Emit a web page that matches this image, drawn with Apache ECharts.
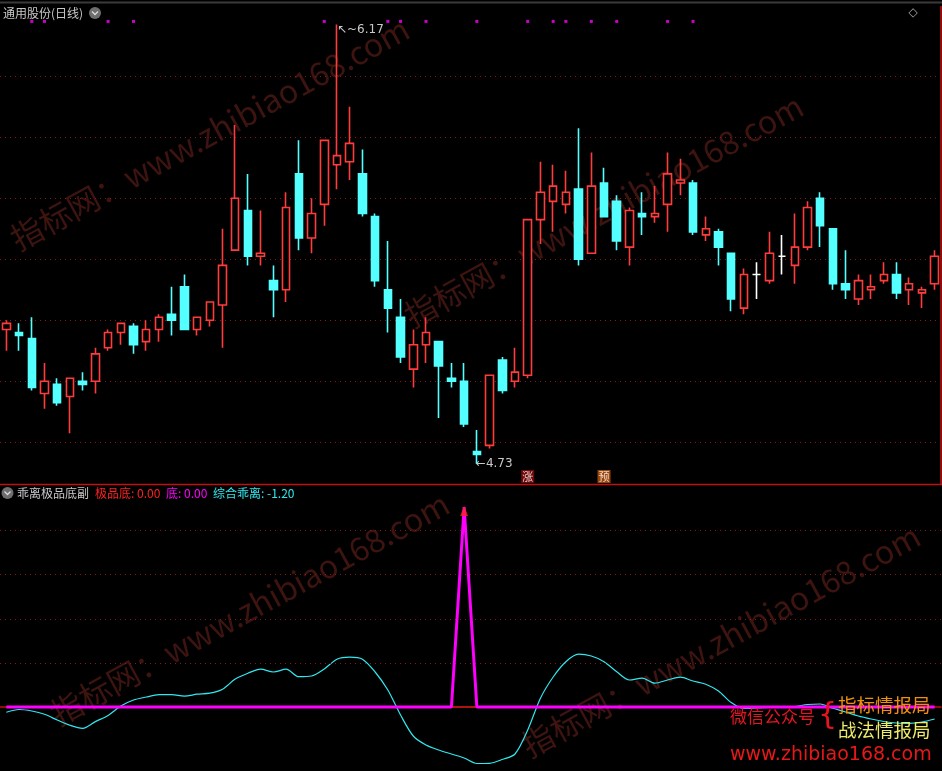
<!DOCTYPE html>
<html><head><meta charset="utf-8">
<script src="https://cdn.jsdelivr.net/npm/echarts@6/dist/echarts.min.js"></script>
<style>html,body{margin:0;padding:0;background:#000;overflow:hidden}#c{width:942px;height:771px}</style>
</head><body><div id="c"></div>
<script>
// ---- data ----
const days = ['d01','d02','d03','d04','d05','d06','d07','d08','d09','d10','d11','d12','d13','d14','d15','d16','d17','d18','d19','d20','d21','d22','d23','d24','d25','d26','d27','d28','d29','d30','d31','d32','d33','d34','d35','d36','d37','d38','d39','d40','d41','d42','d43','d44','d45','d46','d47','d48','d49','d50','d51','d52','d53','d54','d55','d56','d57','d58','d59','d60','d61','d62','d63','d64','d65','d66','d67','d68','d69','d70','d71','d72','d73','d74'];
const opens  = [5.17,5.16,5.14,4.96,4.99,4.95,5.00,5.00,5.11,5.16,5.18,5.13,5.17,5.22,5.31,5.17,5.20,5.25,5.43,5.56,5.41,5.33,5.30,5.68,5.47,5.58,5.71,5.72,5.68,5.54,5.30,5.21,5.04,5.12,5.13,5.01,5.00,4.77,4.79,5.07,5.00,5.02,5.53,5.59,5.58,5.63,5.42,5.65,5.59,5.44,5.55,5.54,5.58,5.65,5.65,5.48,5.49,5.42,5.24,5.35,5.33,5.41,5.38,5.44,5.60,5.50,5.32,5.27,5.30,5.33,5.35,5.30,5.29,5.32];
const closes = [5.19,5.15,4.98,5.00,4.93,5.01,4.99,5.09,5.16,5.19,5.12,5.17,5.21,5.20,5.17,5.21,5.26,5.38,5.60,5.41,5.42,5.30,5.57,5.47,5.55,5.79,5.74,5.78,5.55,5.33,5.24,5.08,5.12,5.16,5.05,5.00,4.86,4.76,5.02,4.97,5.03,5.53,5.62,5.64,5.62,5.40,5.64,5.54,5.46,5.56,5.54,5.55,5.68,5.66,5.49,5.50,5.44,5.27,5.35,5.35,5.42,5.41,5.44,5.57,5.51,5.32,5.30,5.33,5.31,5.35,5.29,5.32,5.30,5.41];
const lows   = [5.10,5.10,4.97,4.91,4.92,4.83,4.97,4.96,5.10,5.12,5.09,5.10,5.13,5.15,5.17,5.15,5.18,5.11,5.43,5.38,5.38,5.21,5.26,5.43,5.42,5.51,5.63,5.66,5.54,5.31,5.16,5.06,4.98,5.06,4.88,4.98,4.85,4.73,4.78,4.96,4.98,5.01,5.45,5.49,5.55,5.38,5.42,5.54,5.43,5.38,5.48,5.52,5.49,5.61,5.48,5.46,5.38,5.23,5.22,5.27,5.32,5.35,5.32,5.43,5.44,5.30,5.27,5.25,5.27,5.32,5.27,5.25,5.24,5.30];
const highs  = [5.20,5.19,5.21,5.06,5.01,5.01,5.03,5.11,5.17,5.19,5.19,5.20,5.22,5.31,5.35,5.21,5.26,5.50,5.84,5.68,5.56,5.38,5.62,5.79,5.60,5.79,6.17,5.90,5.76,5.55,5.46,5.27,5.17,5.21,5.13,5.06,5.06,4.84,5.02,5.08,5.11,5.53,5.72,5.71,5.69,5.83,5.75,5.70,5.61,5.57,5.62,5.64,5.75,5.73,5.66,5.54,5.50,5.42,5.37,5.39,5.49,5.48,5.55,5.59,5.62,5.50,5.43,5.35,5.35,5.39,5.39,5.34,5.31,5.43];
// indicator: 综合乖离 (cyan), 底 (magenta), 极品底 (red)
const zhpl = [-0.53,-0.25,-0.40,-0.73,-1.30,-1.83,-2.13,-1.46,-0.85,0.10,0.70,1.00,1.23,1.23,1.08,1.28,1.38,1.78,2.80,3.38,3.78,3.50,3.78,3.03,3.10,3.80,4.78,4.98,4.78,3.50,1.70,-0.80,-2.90,-3.80,-4.30,-4.70,-5.10,-5.65,-5.63,-5.25,-4.70,-2.30,0.88,3.00,4.53,5.28,5.10,4.53,3.53,2.70,2.88,2.38,2.70,2.98,2.60,2.28,1.60,0.45,-0.15,-0.10,-0.05,0.00,0.05,0.25,0.30,-0.13,-0.50,-0.90,-1.20,-1.45,-1.60,-1.63,-1.50,-1.20];
const di   = [0,0,0,0,0,0,0,0,0,0,0,0,0,0,0,0,0,0,0,0,0,0,0,0,0,0,0,0,0,0,0,0,0,0,0,0,20,0,0,0,0,0,0,0,0,0,0,0,0,0,0,0,0,0,0,0,0,0,0,0,0,0,0,0,0,0,0,0,0,0,0,0,0,0];
const jpd  = [0,0,0,0,0,0,0,0,0,0,0,0,0,0,0,0,0,0,0,0,0,0,0,0,0,0,0,0,0,0,0,0,0,0,0,0,0,0,0,0,0,0,0,0,0,0,0,0,0,0,0,0,0,0,0,0,0,0,0,0,0,0,0,0,0,0,0,0,0,0,0,0,0,0];
const arrowIdx = [36];          // 极品底 arrow
const dotIdx = [2,3,8,10,25,30,31,33,37,41,43,44,46,48,52,54];  // magenta dots on top
const zhangIdx = [41];          // 涨
const yuIdx = [47];             // 预
const hiIdx = 26, hiVal = 6.17, loIdx = 37, loVal = 4.73;
const priceTicks = {min: 4.6, max: 6.2, step: 0.2};
const indGrid = [4.4, 8.8, 13.3, 17.7];

// ---- build ----
const ohlc = opens.map((o, i) => [o, closes[i], lows[i], highs[i]]);
const GRID_RED = '#8a1818';
const wm = '#3e1410';
const chart = echarts.init(document.getElementById('c'), null, {renderer: 'canvas'});
const nLines = Math.round((priceTicks.max - priceTicks.min) / priceTicks.step) + 1;
const splitColors = [];
for (let k = 0; k < nLines; k++) splitColors.push(k === 0 || k === nLines - 1 ? 'rgba(0,0,0,0)' : GRID_RED);

function wmText(x, y) {
  return {type: 'text', x: x, y: y, rotation: 0.5, z: 0, silent: true,
    style: {text: '指标网：www.zhibiao168.com', fill: wm, font: '32px "Noto Sans CJK SC"', textAlign: 'left', textVerticalAlign: 'middle'}};
}
const F = '"Noto Sans CJK SC"';
chart.setOption({
  backgroundColor: '#000',
  animation: false,
  grid: [
    {left: -1, width: 942, top: 15.3, height: 488},
    {left: -1, width: 942, top: 487, height: 282}
  ],
  xAxis: [
    {type: 'category', data: days, gridIndex: 0, boundaryGap: true, axisLine: {show: false}, axisTick: {show: false}, axisLabel: {show: false}, splitLine: {show: false}},
    {type: 'category', data: days, gridIndex: 1, boundaryGap: true, axisLine: {show: true, lineStyle: {color: '#c01010', width: 1.5}}, axisTick: {show: false}, axisLabel: {show: false}, splitLine: {show: false}}
  ],
  yAxis: [
    {type: 'value', gridIndex: 0, min: priceTicks.min, max: priceTicks.max, interval: priceTicks.step, axisLine: {show: false}, axisTick: {show: false}, axisLabel: {show: false},
      splitLine: {show: true, lineStyle: {color: splitColors, type: [1, 4], width: 1}}},
    {type: 'value', gridIndex: 1, min: -6.2, max: 22, axisLine: {show: false}, axisTick: {show: false}, axisLabel: {show: false}, splitLine: {show: false}}
  ],
  graphic: [
    wmText(13, 241), wmText(407, 318), wmText(53, 716), wmText(524, 748),
    {type: 'line', shape: {x1: 0, y1: 2.5, x2: 942, y2: 2.5}, style: {stroke: '#3a3a3a', lineWidth: 2}},
    {type: 'line', shape: {x1: 0, y1: 484.5, x2: 942, y2: 484.5}, style: {stroke: '#c01010', lineWidth: 1.5}},
    {type: 'line', shape: {x1: 941, y1: 6, x2: 941, y2: 484}, style: {stroke: '#c01010', lineWidth: 1.5}},
    {type: 'text', x: 3, y: 13.5, style: {text: '通用股份(日线)', fill: '#c8c8c8', font: '12px ' + F, textVerticalAlign: 'middle'}},
    {type: 'circle', shape: {cx: 95, cy: 13, r: 6}, style: {fill: '#6e6e6e'}},
    {type: 'polyline', shape: {points: [[92, 11.5], [95, 14.5], [98, 11.5]]}, style: {stroke: '#dcdcdc', lineWidth: 1.3, fill: null}},
    {type: 'text', x: 913, y: 13, style: {text: '◇', fill: '#a0a0a0', font: '12px "DejaVu Sans"', textAlign: 'center', textVerticalAlign: 'middle'}},
    {type: 'circle', shape: {cx: 7.5, cy: 493, r: 6}, style: {fill: '#6e6e6e'}},
    {type: 'polyline', shape: {points: [[4.5, 491.5], [7.5, 494.5], [10.5, 491.5]]}, style: {stroke: '#dcdcdc', lineWidth: 1.3, fill: null}},
    {type: 'text', x: 17, y: 493, style: {text: '乖离极品底副', fill: '#c8c8c8', font: '12px ' + F, textVerticalAlign: 'middle'}},
    {type: 'text', x: 95, y: 493, style: {text: '极品底: 0.00', fill: '#ff2020', font: '12px ' + F, textVerticalAlign: 'middle'}},
    {type: 'text', x: 166, y: 493, style: {text: '底: 0.00', fill: '#ff00ff', font: '12px ' + F, textVerticalAlign: 'middle'}},
    {type: 'text', x: 213, y: 493, style: {text: '综合乖离: -1.20', fill: '#30e8f0', font: '12px ' + F, textVerticalAlign: 'middle'}},
    {type: 'text', x: 730, y: 717, z: 20, style: {text: '微信公众号', fill: '#e8141e', font: '17px ' + F, textVerticalAlign: 'middle'}},
    {type: 'text', x: 818, y: 716, z: 20, style: {text: '{', fill: '#e8141e', font: '30px "DejaVu Sans"', textVerticalAlign: 'middle'}},
    {type: 'text', x: 838, y: 705, z: 20, style: {text: '指标情报局', fill: '#f0900a', font: '18.5px ' + F, textVerticalAlign: 'middle'}},
    {type: 'text', x: 838, y: 730, z: 20, style: {text: '战法情报局', fill: '#ecec6a', font: '18.5px ' + F, textVerticalAlign: 'middle'}},
    {type: 'text', x: 730, y: 755, z: 20, style: {text: 'www.zhibiao168.com', fill: '#e81818', font: '19px "DejaVu Sans"', textVerticalAlign: 'middle'}}
  ],
  series: [
    {type: 'candlestick', xAxisIndex: 0, yAxisIndex: 0, data: ohlc, barWidth: 8, z: 5,
      itemStyle: {color: '#000000', color0: '#54ffff', borderColor: '#ff3c3c', borderColor0: '#54ffff', borderColorDoji: '#ffffff', borderWidth: 1.6},
      markPoint: {symbol: 'circle', symbolSize: 0, silent: true,
        data: [
          {coord: [hiIdx, hiVal], label: {show: true, position: 'right', distance: 0, offset: [0, 5], formatter: '↖~' + hiVal.toFixed(2), color: '#c8c8c8', fontSize: 12, fontFamily: 'DejaVu Sans'}},
          {coord: [loIdx, loVal], label: {show: true, position: 'right', distance: 0, offset: [-1, 0], formatter: '←' + loVal.toFixed(2), color: '#c8c8c8', fontSize: 12, fontFamily: 'DejaVu Sans'}}
        ]}},
    {type: 'scatter', xAxisIndex: 0, yAxisIndex: 0, symbol: 'rect', symbolSize: 3, itemStyle: {color: '#ff00ff'}, z: 6,
      data: dotIdx.map(i => [i, 6.18])},
    {type: 'scatter', xAxisIndex: 0, yAxisIndex: 0, symbol: 'rect', symbolSize: 13, z: 6,
      itemStyle: {color: '#8c0a0a'},
      label: {show: true, position: 'inside', formatter: '涨', color: '#ffffff', fontSize: 11, fontFamily: F},
      data: zhangIdx.map(i => [i, 4.688])},
    {type: 'scatter', xAxisIndex: 0, yAxisIndex: 0, symbol: 'rect', symbolSize: 13, z: 6,
      itemStyle: {color: '#c0560c'},
      label: {show: true, position: 'inside', formatter: '预', color: '#ffffff', fontSize: 11, fontFamily: F},
      data: yuIdx.map(i => [i, 4.688])},
    {name: '极品底', type: 'line', xAxisIndex: 1, yAxisIndex: 1, data: jpd, symbol: 'none', z: 3,
      lineStyle: {color: '#d01818', width: 1}},
    {name: '综合乖离', type: 'line', xAxisIndex: 1, yAxisIndex: 1, data: zhpl, symbol: 'none', smooth: 0.3, z: 4,
      lineStyle: {color: '#30e8f0', width: 1.2},
      markLine: {silent: true, symbol: 'none', label: {show: false},
        lineStyle: {color: GRID_RED, type: [1, 4], width: 1},
        data: indGrid.map(v => ({yAxis: v}))}},
    {name: '底', type: 'line', xAxisIndex: 1, yAxisIndex: 1, data: di, symbol: 'none', z: 5,
      lineStyle: {color: '#ff00ff', width: 3}},
    {name: '极品底信号', type: 'scatter', xAxisIndex: 1, yAxisIndex: 1, symbol: 'triangle', symbolSize: [8, 10], symbolOffset: [0, 4], z: 7,
      itemStyle: {color: '#ff2020'},
      data: arrowIdx.map(i => [i, di[i]])}
  ]
});
</script></body></html>
